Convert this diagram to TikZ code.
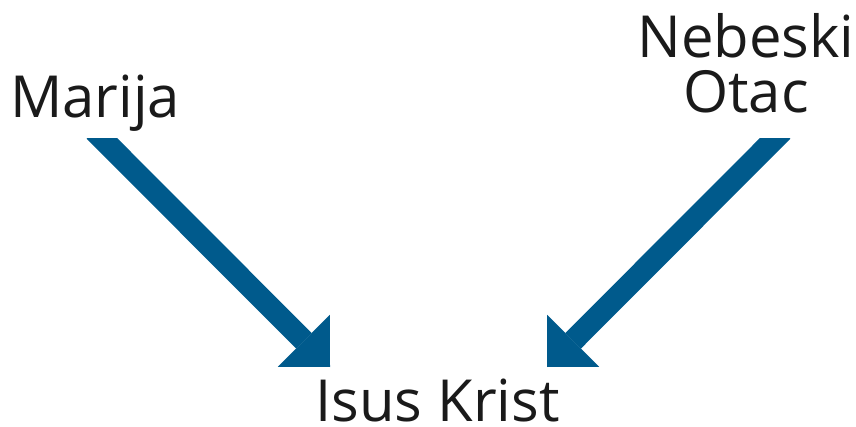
\documentclass[tikz,border=0pt]{standalone}
\usepackage{fontspec}
\setmainfont{Open Sans}
\usetikzlibrary{arrows.meta}
\definecolor{arrowblue}{RGB}{0,90,140}
\definecolor{textblack}{RGB}{26,26,26}
\begin{document}
\begin{tikzpicture}[x=1pt, y=-1pt,
    label/.style={inner sep=0pt, text=textblack, font=\fontsize{58}{50}\selectfont},
    flow/.style={draw=arrowblue, line width=22pt, line cap=butt,
        -{Triangle[length=37pt, width=73.5pt, line width=0pt]}},
]
\useasboundingbox (0,0) rectangle (856,427);
\node[label, anchor=base west] (marija) at (10,118) {Marija};
\node[label, anchor=base, align=center] (otac) at (746,113) {Nebeski\\[5pt]Otac};
\node[label, anchor=base] (isus) at (437.5,421) {Isus Krist};
\coordinate (mstart) at (94.5,131);
\coordinate (mtip) at (330,367);
\coordinate (ostart) at (782.5,131);
\coordinate (otip) at (547,367);
\begin{scope}
\clip (0,139) rectangle (856,427);
\draw[flow] (mstart) -- (mtip);
\draw[flow] (ostart) -- (otip);
\end{scope}
\end{tikzpicture}
\end{document}
